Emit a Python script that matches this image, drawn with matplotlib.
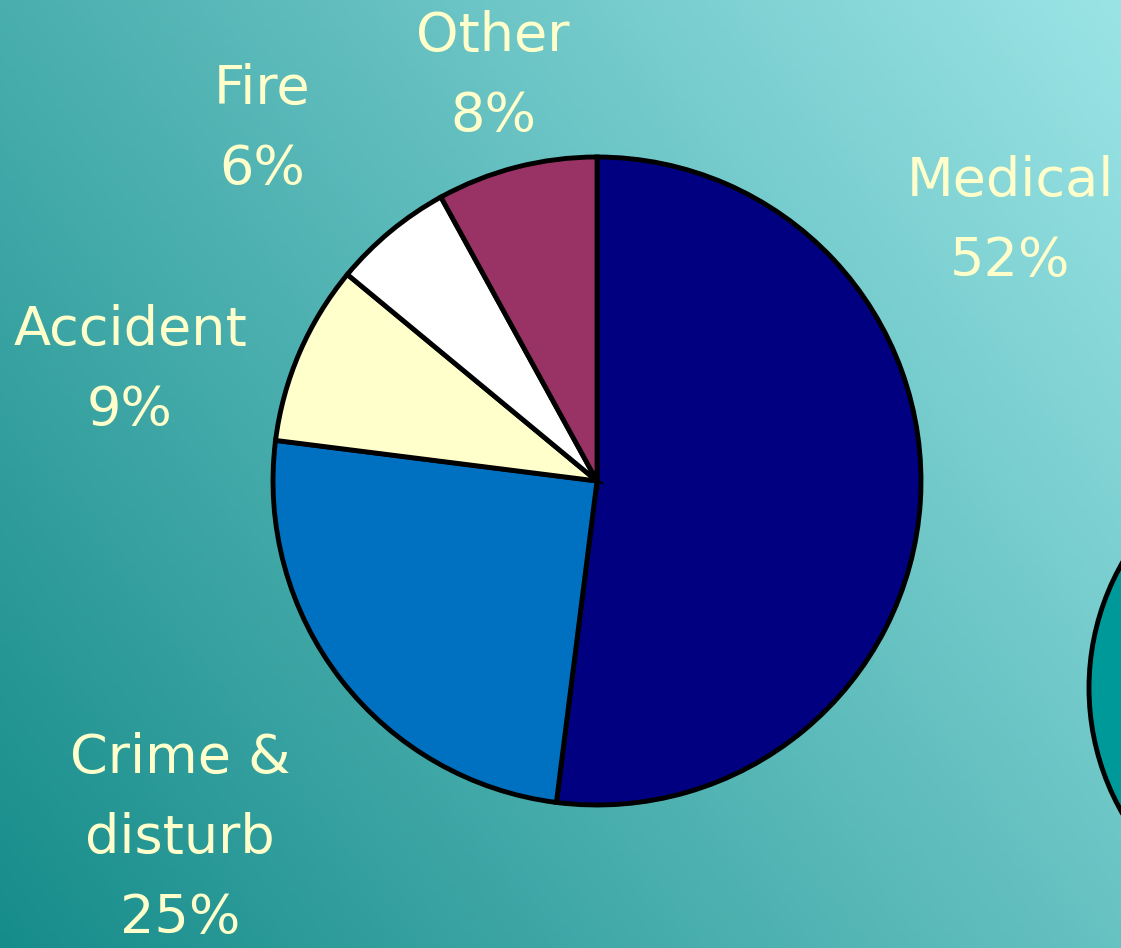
import numpy as np
import matplotlib
matplotlib.use("Agg")
import matplotlib.pyplot as plt
from matplotlib.patches import Circle

# Call categories and their share (%)
categories = ["Medical", "Crime &\ndisturb", "Accident", "Fire", "Other"]
shares = [52, 25, 9, 6, 8]
colors = ["#000080", "#0070C0", "#FFFFCC", "#FFFFFF", "#993366"]

# label anchor points (pixel space of the slide)
label_pos = [(1010, 221), (180, 838), (130, 370), (262, 129), (493, 76)]

W, H = 1121, 948
fig = plt.figure(figsize=(W / 100, H / 100), dpi=100)
ax = fig.add_axes([0, 0, 1, 1])

# diagonal teal gradient background
tl = np.array([74, 174, 174]) / 255
tr = np.array([155, 228, 230]) / 255
bl = np.array([22, 140, 138]) / 255
xs = np.linspace(0, 1, 300)[None, :, None]
ys = np.linspace(0, 1, 260)[:, None, None]
grad = tl + (tr - tl) * xs + (bl - tl) * ys
ax.imshow(np.clip(grad, 0, 1), extent=[0, W, H, 0], aspect="auto", zorder=0)

# second pie peeking in from the right edge
ax.add_patch(Circle((1341, 688), 252, facecolor="#009999", edgecolor="black",
                    linewidth=3.5, zorder=1))

# y axis is flipped (pixel space), so counterclock=True draws clockwise on screen
wedges, _ = ax.pie(shares, colors=colors, startangle=-90, counterclock=True,
                   center=(597, 481), radius=324,
                   wedgeprops=dict(edgecolor="black", linewidth=3.5))
for w in wedges:
    w.set_zorder(2)

ax.set_xlim(0, W)
ax.set_ylim(H, 0)
ax.set_aspect("auto")
ax.axis("off")

for cat, val, (x, y) in zip(categories, shares, label_pos):
    ax.text(x, y, f"{cat}\n{val}%", ha="center", va="center", color="#FFFFCC",
            fontsize=39, linespacing=1.68, zorder=3)

fig.savefig("out.png", dpi=100)
